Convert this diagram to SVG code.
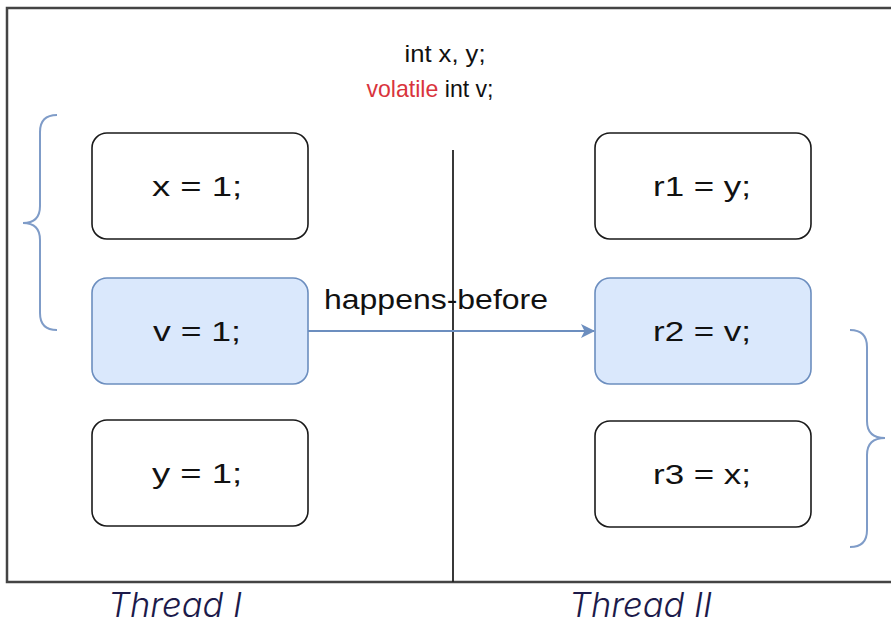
<svg xmlns="http://www.w3.org/2000/svg" width="891" height="624" viewBox="0 0 891 624">
  <style>
    .box { fill: #ffffff; stroke: #1a1a1a; stroke-width: 1.6; }
    .vbox { fill: #dae8fc; stroke: #6c8ebf; stroke-width: 1.6; }
    .lbl { font-family: "Liberation Sans", Arial, sans-serif; font-size: 27px; fill: #111; text-anchor: middle; }
    .hdr { font-family: "Liberation Sans", Arial, sans-serif; font-size: 24px; fill: #111; text-anchor: middle; }
    .thr { font-family: Inter, "Liberation Sans", sans-serif; font-style: italic; font-weight: 300; font-size: 34px; fill: #1c1a4a; }
    .brace { fill: none; stroke: #7f9cc8; stroke-width: 2; }
  </style>
  <defs>
    <marker id="arr" markerWidth="14" markerHeight="14" refX="13" refY="7" orient="auto" markerUnits="userSpaceOnUse">
      <path d="M0,0 L14,7 L0,14 L3.5,7 Z" fill="#6c8ebf"/>
    </marker>
  </defs>
  <rect x="0" y="0" width="891" height="624" fill="#ffffff"/>
  <g id="frame">
    <rect x="7" y="8" width="900" height="574" fill="none" stroke="#444" stroke-width="2.5"/>
    <line x1="453" y1="150" x2="453" y2="582" stroke="#222" stroke-width="1.8"/>
  </g>
  <g id="header">
    <text class="hdr" x="445" y="62" textLength="81" lengthAdjust="spacingAndGlyphs">int x, y;</text>
    <text class="hdr" x="430" y="97" textLength="127" lengthAdjust="spacingAndGlyphs"><tspan fill="#d9343c">volatile</tspan> int v;</text>
  </g>
  <g id="braces">
    <path class="brace" d="M57,115 Q40,115 40,132 L40,206 Q40,223 23,223 Q40,223 40,240 L40,313 Q40,330 57,330"/>
    <path class="brace" d="M850,330 Q867,330 867,347 L867,421 Q867,438 885,438 Q867,438 867,455 L867,530 Q867,547 850,547"/>
  </g>
  <g id="n1">
    <rect class="box" x="92" y="133" width="216" height="106" rx="15"/>
    <text class="lbl" x="197" y="196" textLength="90" lengthAdjust="spacingAndGlyphs">x = 1;</text>
  </g>
  <g id="n2">
    <rect class="vbox" x="92" y="278" width="216" height="106" rx="15"/>
    <text class="lbl" x="197" y="341" textLength="88" lengthAdjust="spacingAndGlyphs">v = 1;</text>
  </g>
  <g id="n3">
    <rect class="box" x="92" y="420" width="216" height="106" rx="15"/>
    <text class="lbl" x="197" y="483" textLength="90" lengthAdjust="spacingAndGlyphs">y = 1;</text>
  </g>
  <g id="n4">
    <rect class="box" x="595" y="133" width="216" height="106" rx="15"/>
    <text class="lbl" x="702" y="196" textLength="98" lengthAdjust="spacingAndGlyphs">r1 = y;</text>
  </g>
  <g id="n5">
    <rect class="vbox" x="595" y="278" width="216" height="106" rx="15"/>
    <text class="lbl" x="702" y="341" textLength="98" lengthAdjust="spacingAndGlyphs">r2 = v;</text>
  </g>
  <g id="n6">
    <rect class="box" x="595" y="421" width="216" height="106" rx="15"/>
    <text class="lbl" x="702" y="484" textLength="98" lengthAdjust="spacingAndGlyphs">r3 = x;</text>
  </g>
  <g id="connectors">
    <line x1="308" y1="331" x2="594" y2="331" stroke="#6c8ebf" stroke-width="2" marker-end="url(#arr)"/>
    <text class="lbl" x="436" y="309" font-size="29" textLength="224" lengthAdjust="spacingAndGlyphs">happens-before</text>
  </g>
  <g id="labels">
    <text class="thr" x="108" y="617" textLength="134" lengthAdjust="spacingAndGlyphs">Thread I</text>
    <text class="thr" x="569" y="617" textLength="143" lengthAdjust="spacingAndGlyphs">Thread II</text>
  </g>
</svg>
